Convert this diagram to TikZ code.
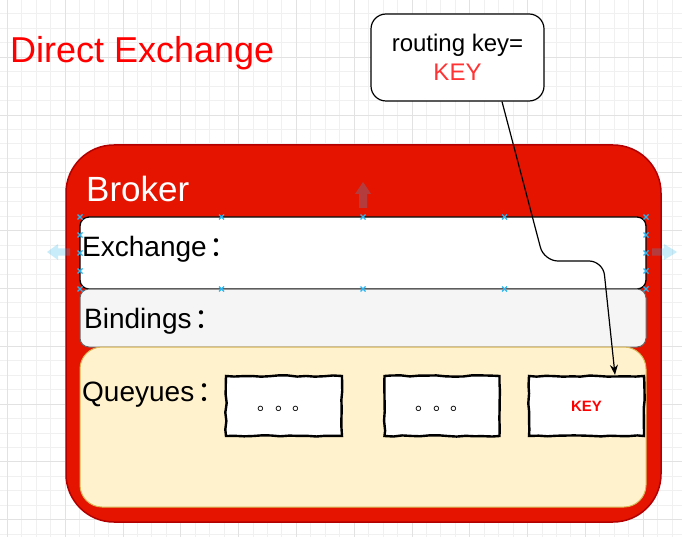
\documentclass[tikz,border=0pt]{standalone}
\usepackage{fontspec}
\setmainfont{Liberation Sans}
\newfontfamily\cjk{Noto Sans CJK SC}
\usepackage{tikz}
\usepackage{xcolor}
\usetikzlibrary{arrows.meta,decorations.pathmorphing}

\definecolor{brokerred}{HTML}{E51400}
\definecolor{brokerline}{HTML}{B20000}
\definecolor{titlered}{HTML}{FF0000}
\definecolor{keyred}{HTML}{FF3333}
\definecolor{bindfill}{HTML}{F5F5F5}
\definecolor{bindline}{HTML}{666666}
\definecolor{queuefill}{HTML}{FFF2CC}
\definecolor{queueline}{HTML}{D6B656}
\definecolor{handleblue}{HTML}{29B6F2}
\definecolor{gridminor}{HTML}{F0F0F0}
\definecolor{gridmajor}{HTML}{E2E2E2}

\newcommand{\zhcolon}{\kern3pt{\cjk ：}}
\newcommand{\zhdots}{\raisebox{-4pt}[0pt][0pt]{\cjk\fontsize{17.5}{20}\selectfont 。。。}}

\tikzset{
  panel/.style={rectangle, inner sep=0pt, minimum width=566pt},
  label/.style={anchor=base west, inner sep=0pt, font=\fontsize{28}{32}\selectfont},
  qitem/.style={rectangle, draw=black, fill=white, line width=2.4pt,
    minimum height=60pt, inner sep=0pt, decorate,
    decoration={random steps, segment length=9pt, amplitude=0.7pt}},
  handle/.style={draw=handleblue, line width=1.1pt},
  hover/.style={fill=handleblue, opacity=0.25},
  flow/.style={draw=black, line width=1.2pt, -{Stealth[length=10pt,width=8pt]}}
}

\begin{document}
\begin{tikzpicture}[x=1pt,y=-1pt]
\useasboundingbox (0,0) rectangle (682,537);
\fill[white] (0,0) rectangle (682,537);
% grid
\foreach \x in {7.3,21.75,...,682} \draw[gridminor, line width=0.8pt] (\x,0) -- (\x,537);
\foreach \y in {13.85,28.3,...,537} \draw[gridminor, line width=0.8pt] (0,\y) -- (682,\y);
\foreach \x in {7.3,65.1,...,682} \draw[gridmajor, line width=0.8pt] (\x,0) -- (\x,537);
\foreach \y in {57.2,115,...,537} \draw[gridmajor, line width=0.8pt] (0,\y) -- (682,\y);

\node[label, text=titlered, font=\fontsize{36}{40}\selectfont] (title) at (10,63) {Direct Exchange};

% broker
\node[rectangle, draw=brokerline, fill=brokerred, line width=1.5pt, rounded corners=48pt,
  minimum width=595pt, minimum height=377pt, inner sep=0pt] (broker) at (363.5,333.5) {};
\node[label, text=white, font=\fontsize{35}{40}\selectfont] (brokerlbl) at (86,202) {Broker};

\node[panel, draw=black, fill=white, line width=1.3pt, rounded corners=9pt, minimum height=72pt] (exchange) at (363,253) {};
\node[panel, draw=bindline, fill=bindfill, line width=1pt, rounded corners=9pt, minimum height=58pt] (bindings) at (363,318) {};
\node[panel, draw=queueline, fill=queuefill, line width=1pt, rounded corners=22pt, minimum height=160pt] (queues) at (363,427) {};

\node[label] (exlbl) at (82,256) {Exchange\zhcolon};
\node[label] (bindlbl) at (84,328) {Bindings\zhcolon};
\node[label] (queuelbl) at (82,401) {Queyues\zhcolon};

% queues
\pgfmathsetseed{7}
\node[qitem, minimum width=116pt] (q1) at (284,406) {\zhdots};
\node[qitem, minimum width=115pt] (q2) at (442,406) {\zhdots};
\node[qitem, minimum width=115pt] (q3) at (586.5,406) {\textcolor{titlered}{\bfseries\fontsize{15}{18}\selectfont KEY}};

% routing key
\node[rectangle, draw=black, fill=white, line width=1.2pt, rounded corners=15pt,
  minimum width=173pt, minimum height=87pt, align=center,
  font=\fontsize{24}{29}\selectfont] (rk) at (457.5,57.5) {routing key=\\\textcolor{keyred}{KEY}};

\draw[flow, rounded corners=14pt] ([xshift=44.5pt]rk.south) -- (544,261) -- (603,261) -- ([xshift=28.5pt]q3.north);

% selection handles
\foreach \x in {80,221.5,363,504.5,646}
  \foreach \y in {217,289}
    \draw[handle] (\x-2.5,\y-2.5) -- ++(5,5) (\x-2.5,\y+2.5) -- ++(5,-5);
\foreach \x in {80,646}
  \foreach \y in {235,253,271}
    \draw[handle] (\x-2.5,\y-2.5) -- ++(5,5) (\x-2.5,\y+2.5) -- ++(5,-5);
\fill[hover] (363,182) -- (371,194) -- (367,194) -- (367,208) -- (359,208) -- (359,194) -- (355,194) -- cycle;
\fill[hover] (47,252) -- (58,244) -- (58,248.5) -- (70,248.5) -- (70,255.5) -- (58,255.5) -- (58,260) -- cycle;
\fill[hover] (677,252) -- (664,244) -- (664,248.5) -- (652,248.5) -- (652,255.5) -- (664,255.5) -- (664,260) -- cycle;
\end{tikzpicture}
\end{document}
